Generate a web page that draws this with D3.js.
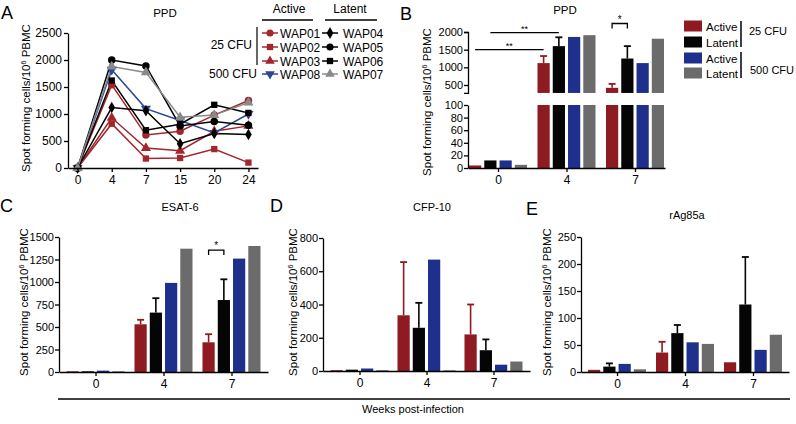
<!DOCTYPE html>
<html><head><meta charset="utf-8">
<script src="https://cdn.jsdelivr.net/npm/d3@7"></script>
<style>body{margin:0;background:#fff}</style>
</head><body><svg id="c" width="796" height="424"></svg>
<script>
// ---------- DATA ----------
// Panel A (PPD, individual animals)
const weeksA = ["0","4","7","15","20","24"];
const WAP01 = [0,1540,610,680,980,1250];
const WAP02 = [0,820,175,185,350,100];
const WAP03 = [0,930,370,320,680,780];
const WAP08 = [0,1820,1100,880,650,1000];
const WAP04 = [0,1120,1060,450,640,620];
const WAP05 = [0,2000,1890,780,860,790];
const WAP06 = [0,1620,700,810,1170,1020];
const WAP07 = [0,1880,1770,940,980,1210];
const yTicksA = [0,500,1000,1500,2000,2500];

// Grouped bar panels
const groups = ["0","4","7"];
// B: PPD
const ppdActive25  = [4,1120,420];
const ppdActive25Err = [0,200,110];
const ppdLatent25  = [12,1600,1250];
const ppdLatent25Err = [0,250,350];
const ppdActive500 = [12,1860,1120];
const ppdLatent500 = [5,1910,1810];
const ppdTicksLow = [0,20,40,60,80,100];
const ppdTicksHigh = [500,1000,1500,2000];
// C: ESAT-6
const esatActive25 = [8,530,330];
const esatActive25Err = [0,50,90];
const esatLatent25 = [8,660,800];
const esatLatent25Err = [0,160,230];
const esatActive500 = [15,990,1260];
const esatLatent500 = [8,1370,1400];
const esatTicks = [0,250,500,750,1000,1250,1500];
// D: CFP-10
const cfpActive25 = [5,335,220];
const cfpActive25Err = [0,320,180];
const cfpLatent25 = [8,260,125];
const cfpLatent25Err = [0,150,65];
const cfpActive500 = [15,670,38];
const cfpLatent500 = [5,4,57];
const cfpTicks = [0,200,400,600,800];
// E: rAg85a
const agActive25 = [4,36,18];
const agActive25Err = [0,20,0];
const agLatent25 = [10,72,125];
const agLatent25Err = [6,15,88];
const agActive500 = [15,55,41];
const agLatent500 = [5,52,69];
const agTicks = [0,50,100,150,200,250];

// ---------- DRAWING ----------
const svg = d3.select("#c");
const FONT = "'Liberation Sans', Arial, Helvetica, sans-serif";
const COL = {a25:"#8e1b22", l25:"#050505", a500:"#1f2f8c", l500:"#6b6b6b"};
const subKeys = ["a25","l25","a500","l500"];
const fmt = d3.format("d");

function txt(x,y,s,fs,anchor){
  return svg.append("text").attr("x",x).attr("y",y).attr("font-family",FONT)
    .attr("font-size",fs).attr("text-anchor",anchor||"start").attr("fill","#000").text(s);
}
function styleAxis(g, fs){
  g.selectAll("path,line").attr("stroke","#000").attr("stroke-width",1.3);
  g.selectAll("text").attr("font-family",FONT).attr("font-size",fs).attr("fill","#000");
}
function yLabel(x, cy, fs){
  const t = svg.append("text").attr("transform",`translate(${x},${cy}) rotate(-90)`)
    .attr("text-anchor","middle").attr("font-family",FONT).attr("font-size",fs).attr("fill","#000");
  t.append("tspan").text("Spot forming cells/10");
  t.append("tspan").attr("dy",-4.5).attr("font-size",fs*0.62).text("6");
  t.append("tspan").attr("dy",4.5).text(" PBMC");
}

// ---- Panel A ----
(function(){
  const x = d3.scalePoint().domain(weeksA).range([68,258]).padding(0.28);
  const y = d3.scaleLinear().domain([0,2500]).range([168,33]);
  const series = [
    {name:"WAP01", v:WAP01, c:"#a3262d", s:d3.symbolCircle, r:0},
    {name:"WAP02", v:WAP02, c:"#a3262d", s:d3.symbolSquare, r:0},
    {name:"WAP03", v:WAP03, c:"#a3262d", s:d3.symbolTriangle, r:0},
    {name:"WAP08", v:WAP08, c:"#2d4695", s:d3.symbolTriangle, r:180},
    {name:"WAP04", v:WAP04, c:"#000", s:d3.symbolDiamond, r:0},
    {name:"WAP05", v:WAP05, c:"#000", s:d3.symbolCircle, r:0},
    {name:"WAP06", v:WAP06, c:"#000", s:d3.symbolSquare, r:0},
    {name:"WAP07", v:WAP07, c:"#8a8a8a", s:d3.symbolTriangle, r:0}
  ];
  const line = d3.line().x((d,i)=>x(weeksA[i])).y(d=>y(d));
  const g = svg.append("g");
  series.forEach(s=>{
    g.append("path").attr("d",line(s.v)).attr("fill","none").attr("stroke",s.c).attr("stroke-width",1.5);
  });
  series.forEach(s=>{
    g.selectAll(null).data(s.v).join("path")
      .attr("d",d3.symbol().type(s.s).size(s.s===d3.symbolDiamond?38:(s.s===d3.symbolSquare?40:44)))
      .attr("transform",(d,i)=>`translate(${x(weeksA[i])},${y(d)}) rotate(${s.r})`)
      .attr("fill",s.c);
  });
  const ay = svg.append("g").attr("transform","translate(68,0)")
    .call(d3.axisLeft(y).tickValues(yTicksA).tickFormat(fmt).tickSize(4).tickSizeOuter(0).tickPadding(2));
  styleAxis(ay,12);
  const ax = svg.append("g").attr("transform","translate(0,168)")
    .call(d3.axisBottom(x).tickSize(4).tickSizeOuter(0).tickPadding(3));
  styleAxis(ax,12);
  yLabel(30,98,11.5);
  txt(165,17,"PPD",11.5,"middle");
  txt(1,19,"A",18);
  // legend
  txt(289,13,"Active",12,"middle");
  txt(350,13,"Latent",12,"middle");
  svg.append("line").attr("x1",262).attr("x2",313).attr("y1",20).attr("y2",20).attr("stroke","#000").attr("stroke-width",1.3);
  svg.append("line").attr("x1",325).attr("x2",377).attr("y1",20).attr("y2",20).attr("stroke","#000").attr("stroke-width",1.3);
  const rowsY = [33,47,61,74];
  series.forEach((s,i)=>{
    const col = i<4?0:1, row = i%4;
    const lx = col===0?262:322, ty = rowsY[row];
    svg.append("line").attr("x1",lx).attr("x2",lx+16).attr("y1",ty).attr("y2",ty).attr("stroke",s.c).attr("stroke-width",1.5);
    svg.append("path").attr("d",d3.symbol().type(s.s).size(40)()).attr("transform",`translate(${lx+8},${ty}) rotate(${s.r})`).attr("fill",s.c);
    txt(col===0?280:343,ty+4.5,s.name,12);
  });
  svg.append("line").attr("x1",257).attr("x2",257).attr("y1",27).attr("y2",65).attr("stroke","#000").attr("stroke-width",1.2);
  txt(252,49,"25 CFU",12,"end");
  txt(257,78,"500 CFU",12,"end");
})();

// ---- generic bar panel ----
function barPanel(o){
  const x = d3.scalePoint().domain(groups).range(o.xr).padding(o.pad);
  const xs = d3.scaleBand().domain(subKeys).range([-29,29]).paddingInner(0.2);
  const y = d3.scaleLinear().domain(o.yd).range(o.yr);
  const g = svg.append("g");
  subKeys.forEach(k=>{
    g.selectAll(null).data(o.vals[k]).join("rect")
      .attr("x",(d,i)=>x(groups[i])+xs(k)).attr("width",xs.bandwidth())
      .attr("y",d=>y(d)).attr("height",d=>y(0)-y(d)).attr("fill",COL[k]);
  });
  Object.keys(o.errs).forEach(k=>{
    o.errs[k].forEach((e,i)=>{
      if(!e) return;
      const v = o.vals[k][i];
      const cx = x(groups[i])+xs(k)+xs.bandwidth()/2;
      g.append("line").attr("x1",cx).attr("x2",cx).attr("y1",y(v)).attr("y2",y(v+e)).attr("stroke",COL[k]).attr("stroke-width",1.6);
      g.append("line").attr("x1",cx-3.5).attr("x2",cx+3.5).attr("y1",y(v+e)).attr("y2",y(v+e)).attr("stroke",COL[k]).attr("stroke-width",1.8);
    });
  });
  const ay = svg.append("g").attr("transform",`translate(${o.xr[0]},0)`)
    .call(d3.axisLeft(y).tickValues(o.ticks).tickFormat(fmt).tickSize(4).tickSizeOuter(0).tickPadding(1));
  styleAxis(ay,11);
  const ax = svg.append("g").attr("transform",`translate(0,${o.yr[0]})`)
    .call(d3.axisBottom(x).tickSize(4).tickSizeOuter(0).tickPadding(3));
  styleAxis(ax,12);
  return {x,xs,y};
}

// ---- Panel C ----
const pc = barPanel({xr:[59,268], pad:0.537, yd:[0,1500], yr:[372,237], ticks:esatTicks,
  vals:{a25:esatActive25,l25:esatLatent25,a500:esatActive500,l500:esatLatent500},
  errs:{a25:esatActive25Err,l25:esatLatent25Err}});
yLabel(28,302,11.5);
txt(180,211,"ESAT-6",11,"middle");
txt(0,212,"C",18);
function bracket(p, grp, yv){
  const x1 = p.x(grp)+p.xs("a25")+p.xs.bandwidth()/2;
  const x2 = p.x(grp)+p.xs("l25")+p.xs.bandwidth()/2;
  const yy = p.y(yv);
  svg.append("path").attr("d",`M${x1},${yy+5}V${yy}H${x2}V${yy+5}`).attr("fill","none").attr("stroke","#000").attr("stroke-width",1.3);
  txt((x1+x2)/2,yy-1,"*",10,"middle");
}
bracket(pc,"7",1355);

// ---- Panel D ----
barPanel({xr:[323,530], pad:0.545, yd:[0,800], yr:[371,238], ticks:cfpTicks,
  vals:{a25:cfpActive25,l25:cfpLatent25,a500:cfpActive500,l500:cfpLatent500},
  errs:{a25:cfpActive25Err,l25:cfpLatent25Err}});
yLabel(297,302,11.5);
txt(432,211,"CFP-10",11,"middle");
txt(270,212,"D",18);

// ---- Panel E ----
barPanel({xr:[581,789], pad:0.53, yd:[0,250], yr:[372,237], ticks:agTicks,
  vals:{a25:agActive25,l25:agLatent25,a500:agActive500,l500:agLatent500},
  errs:{a25:agActive25Err,l25:agLatent25Err}});
yLabel(551,302,11.5);
txt(687,219,"rAg85a",11,"middle");
txt(526,215,"E",18);

// common x label
svg.append("line").attr("x1",58).attr("x2",790).attr("y1",399).attr("y2",399).attr("stroke","#000").attr("stroke-width",1.6);
txt(413,413,"Weeks post-infection",11,"middle");

// ---- Panel B (broken axis) ----
(function(){
  const x = d3.scalePoint().domain(groups).range([468,665]).padding(0.438);
  const xs = d3.scaleBand().domain(subKeys).range([-29,29]).paddingInner(0.2);
  const yL = d3.scaleLinear().domain([0,100]).range([168,105]);
  const yU = d3.scaleLinear().domain([500,2000]).range([85,32]);
  const uMin = 275;
  const vals = {a25:ppdActive25,l25:ppdLatent25,a500:ppdActive500,l500:ppdLatent500};
  const errs = {a25:ppdActive25Err,l25:ppdLatent25Err};
  const g = svg.append("g");
  subKeys.forEach(k=>{
    g.selectAll(null).data(vals[k]).join("rect")
      .attr("x",(d,i)=>x(groups[i])+xs(k)).attr("width",xs.bandwidth())
      .attr("y",d=>yL(Math.min(d,100))).attr("height",d=>yL(0)-yL(Math.min(d,100))).attr("fill",COL[k]);
    g.selectAll(null).data(vals[k].map((d,i)=>({d,i})).filter(o=>o.d>uMin)).join("rect")
      .attr("x",o=>x(groups[o.i])+xs(k)).attr("width",xs.bandwidth())
      .attr("y",o=>yU(o.d)).attr("height",o=>yU(uMin)-yU(o.d)).attr("fill",COL[k]);
  });
  Object.keys(errs).forEach(k=>{
    errs[k].forEach((e,i)=>{
      if(!e) return;
      const v = vals[k][i];
      const cx = x(groups[i])+xs(k)+xs.bandwidth()/2;
      g.append("line").attr("x1",cx).attr("x2",cx).attr("y1",yU(v)).attr("y2",yU(v+e)).attr("stroke",COL[k]).attr("stroke-width",1.6);
      g.append("line").attr("x1",cx-3.5).attr("x2",cx+3.5).attr("y1",yU(v+e)).attr("y2",yU(v+e)).attr("stroke",COL[k]).attr("stroke-width",1.8);
    });
  });
  const ayL = svg.append("g").attr("transform","translate(468,0)")
    .call(d3.axisLeft(yL).tickValues(ppdTicksLow).tickFormat(fmt).tickSize(4).tickSizeOuter(0).tickPadding(1));
  styleAxis(ayL,11);
  const yU2 = yU.copy().domain([uMin,2000]).range([yU(uMin),32]);
  const ayU = svg.append("g").attr("transform","translate(468,0)")
    .call(d3.axisLeft(yU2).tickValues(ppdTicksHigh).tickFormat(fmt).tickSize(4).tickSizeOuter(4).tickPadding(1));
  styleAxis(ayU,11);
  const ax = svg.append("g").attr("transform","translate(0,168)")
    .call(d3.axisBottom(x).tickSize(4).tickSizeOuter(0).tickPadding(3));
  styleAxis(ax,12);
  yLabel(431,102,11.5);
  txt(565,14,"PPD",11.5,"middle");
  txt(400,20,"B",18);
  // significance
  const cxOf = (grp,k)=>x(grp)+xs(k)+xs.bandwidth()/2;
  const l1y = yU(1985), l2y = yU(1500);
  svg.append("line").attr("x1",cxOf("0","l25")).attr("x2",cxOf("4","l25")).attr("y1",l1y).attr("y2",l1y).attr("stroke","#000").attr("stroke-width",1.3);
  txt((cxOf("0","l25")+cxOf("4","l25"))/2,l1y-1,"**",9,"middle");
  svg.append("line").attr("x1",cxOf("0","a25")).attr("x2",cxOf("4","a25")).attr("y1",l2y).attr("y2",l2y).attr("stroke","#000").attr("stroke-width",1.3);
  txt((cxOf("0","a25")+cxOf("4","a25"))/2,l2y-1,"**",9,"middle");
  const b1 = cxOf("7","a25"), b2 = cxOf("7","l25"), by = yU(2240);
  svg.append("path").attr("d",`M${b1},${by+5}V${by}H${b2}V${by+5}`).attr("fill","none").attr("stroke","#000").attr("stroke-width",1.3);
  txt((b1+b2)/2,by-1,"*",10,"middle");
  // legend
  const labs = ["Active","Latent","Active","Latent"];
  const ly = [26,42,58,73];
  subKeys.forEach((k,i)=>{
    svg.append("rect").attr("x",684).attr("y",ly[i]-5.5).attr("width",18).attr("height",11).attr("fill",COL[k]);
    txt(706,ly[i]+4.5,labs[i],11.5);
  });
  svg.append("line").attr("x1",741).attr("x2",741).attr("y1",21).attr("y2",47).attr("stroke","#000").attr("stroke-width",1.5);
  svg.append("line").attr("x1",741).attr("x2",741).attr("y1",52).attr("y2",78).attr("stroke","#000").attr("stroke-width",1.5);
  txt(749,35,"25 CFU",11);
  txt(750,74,"500 CFU",11);
})();
</script>
</body></html>
